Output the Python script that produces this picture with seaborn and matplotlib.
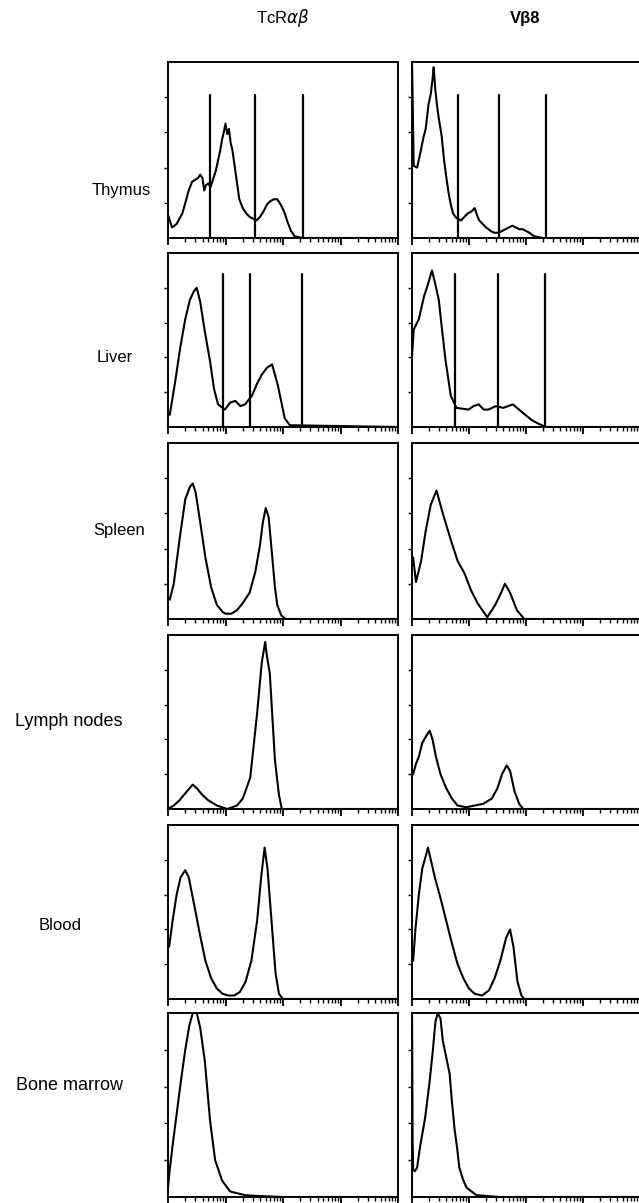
import numpy as np
import pandas as pd
import matplotlib
matplotlib.use("Agg")
import matplotlib.pyplot as plt
import seaborn as sns
from matplotlib.ticker import LogLocator, NullFormatter

sns.set_style("white")
plt.rcParams['font.family'] = ['Liberation Sans', 'DejaVu Sans']

tissues = ["Thymus", "Liver", "Spleen", "Lymph nodes", "Blood", "Bone marrow"]
columns = ["TcRαβ", "Vβ8"]

# x = log10 fluorescence (0..4), y = % of panel height
thymus_tcr_x = [0.00, 0.07, 0.15, 0.25, 0.31, 0.36, 0.42, 0.47, 0.52, 0.56, 0.60, 0.63, 0.66, 0.70, 0.74, 0.78,
                0.83, 0.87, 0.91, 0.94, 0.97, 1.00, 1.03, 1.06, 1.09, 1.12, 1.18, 1.24, 1.30, 1.36, 1.42, 1.48,
                1.54, 1.60, 1.66, 1.72, 1.78, 1.84, 1.90, 1.96, 2.02, 2.08, 2.14, 2.20, 2.34, 4.00]
thymus_tcr_y = [13, 6, 8, 14, 21, 27, 32, 33, 34, 36, 34, 27, 30, 31, 29, 33,
                38, 44, 50, 56, 60, 65, 59, 62, 54, 50, 36, 22, 17, 14, 12, 11,
                10, 12, 15, 19, 21, 22, 22, 19, 15, 9, 4, 1, 0, 0]
thymus_vb8_x = [0.00, 0.00, 0.02, 0.03, 0.09, 0.15, 0.20, 0.24, 0.29, 0.33, 0.36, 0.38, 0.41, 0.44, 0.47, 0.52,
                0.56, 0.60, 0.64, 0.68, 0.72, 0.76, 0.80, 0.86, 0.92, 0.98, 1.04, 1.10, 1.14, 1.18, 1.24, 1.30,
                1.38, 1.44, 1.52, 1.58, 1.64, 1.70, 1.76, 1.82, 1.88, 1.94, 2.00, 2.06, 2.14, 2.22, 2.30, 4.00]
thymus_vb8_y = [0, 100, 60, 41, 40, 49, 57, 62, 76, 82, 90, 97, 84, 75, 68, 58,
                45, 35, 26, 19, 14, 12, 11, 10, 12, 14, 15, 17, 13, 10, 8, 6,
                4, 3, 3, 4, 5, 6, 7, 6, 5, 5, 4, 3, 1, 0.5, 0, 0]

liver_tcr_x = [0.03, 0.12, 0.21, 0.30, 0.38, 0.45, 0.50, 0.56, 0.64, 0.73, 0.80, 0.87, 0.99, 1.08, 1.17, 1.26,
               1.34, 1.46, 1.55, 1.63, 1.72, 1.81, 1.91, 2.03, 2.12, 4.00]
liver_tcr_y = [7, 25, 45, 62, 73, 78, 80, 72, 55, 38, 22, 13, 10, 14, 15, 12,
               13, 18, 25, 30, 34, 36, 24, 5, 1, 0]
liver_vb8_x = [0.00, 0.03, 0.12, 0.21, 0.28, 0.35, 0.41, 0.47, 0.53, 0.59, 0.68, 0.78, 0.99, 1.08, 1.17, 1.26,
               1.34, 1.47, 1.60, 1.77, 1.95, 2.10, 2.21, 2.35, 4.00]
liver_vb8_y = [40, 56, 62, 75, 82, 90, 82, 73, 55, 38, 18, 11, 10, 12, 13, 10,
               10, 12, 11, 13, 8, 4, 2, 0, 0]

spleen_tcr_x = [0.03, 0.10, 0.20, 0.30, 0.38, 0.43, 0.48, 0.56, 0.65, 0.75, 0.85, 0.95, 1.00, 1.10, 1.20, 1.30,
                1.42, 1.52, 1.60, 1.65, 1.70, 1.75, 1.80, 1.86, 1.90, 1.97, 2.05, 4.00]
spleen_tcr_y = [11, 20, 45, 68, 75, 77, 72, 55, 35, 18, 8, 4, 3, 3, 5, 9,
                15, 27, 42, 55, 63, 58, 40, 18, 8, 2, 0, 0]
spleen_vb8_x = [0.00, 0.02, 0.07, 0.16, 0.24, 0.33, 0.43, 0.54, 0.68, 0.80, 0.92, 1.04, 1.15, 1.32, 1.46, 1.55,
                1.63, 1.72, 1.84, 1.97, 4.00]
spleen_vb8_y = [30, 35, 21, 33, 50, 65, 73, 60, 45, 33, 26, 16, 9, 1, 8, 14,
                20, 15, 5, 0, 0]

lymph_tcr_x = [0.00, 0.10, 0.20, 0.30, 0.43, 0.50, 0.60, 0.70, 0.85, 1.03, 1.20, 1.30, 1.43, 1.55, 1.63, 1.69,
               1.72, 1.77, 1.86, 1.93, 1.98, 4.00]
lymph_tcr_y = [0, 2, 5, 9, 14, 12, 8, 5, 2, 0, 2, 6, 18, 55, 84, 96,
               88, 78, 28, 8, 0, 0]
lymph_vb8_x = [0.02, 0.07, 0.12, 0.18, 0.25, 0.31, 0.36, 0.42, 0.50, 0.60, 0.70, 0.80, 0.95, 1.10, 1.25, 1.40,
               1.50, 1.58, 1.66, 1.72, 1.80, 1.88, 1.95, 4.00]
lymph_vb8_y = [20, 26, 30, 38, 42, 45, 40, 30, 20, 12, 6, 2, 1, 2, 3, 6,
               12, 20, 25, 22, 10, 3, 0, 0]

blood_tcr_x = [0.02, 0.08, 0.15, 0.22, 0.30, 0.36, 0.45, 0.55, 0.65, 0.75, 0.85, 0.95, 1.05, 1.15, 1.25, 1.35,
               1.45, 1.55, 1.62, 1.68, 1.73, 1.80, 1.87, 1.93, 2.00, 4.00]
blood_tcr_y = [30, 45, 60, 70, 74, 70, 55, 38, 22, 12, 6, 3, 2, 2, 4, 10,
               22, 45, 70, 87, 75, 45, 15, 3, 0, 0]
blood_vb8_x = [0.02, 0.06, 0.12, 0.18, 0.24, 0.28, 0.33, 0.40, 0.50, 0.60, 0.70, 0.80, 0.90, 1.00, 1.10, 1.23,
               1.35, 1.45, 1.55, 1.65, 1.72, 1.78, 1.85, 1.92, 1.97, 4.00]
blood_vb8_y = [22, 40, 60, 75, 82, 87, 80, 70, 58, 45, 32, 20, 12, 6, 3, 2,
               5, 12, 22, 35, 40, 30, 10, 2, 0, 0]

marrow_tcr_x = [0.00, 0.03, 0.08, 0.15, 0.22, 0.30, 0.37, 0.43, 0.50, 0.56, 0.64, 0.73, 0.82, 0.94, 1.08, 1.34,
                1.60, 2.00, 4.00]
marrow_tcr_y = [5, 15, 28, 45, 62, 80, 93, 100, 100, 92, 74, 42, 20, 9, 3, 1,
                0.5, 0, 0]
marrow_vb8_x = [0.00, 0.00, 0.01, 0.02, 0.05, 0.09, 0.14, 0.23, 0.31, 0.37, 0.41, 0.45, 0.50, 0.54, 0.60, 0.66,
                0.70, 0.75, 0.79, 0.83, 0.90, 0.96, 1.13, 1.53, 4.00]
marrow_vb8_y = [0, 100, 30, 15, 14, 16, 27, 43, 63, 81, 95, 100, 97, 85, 76, 67,
                52, 36, 27, 16, 9, 5, 1, 0, 0]

# gate markers (log10 position), height in %
thymus_tcr_gates = [0.73, 1.51, 2.35]
thymus_vb8_gates = [0.80, 1.53, 2.35]
liver_tcr_gates = [0.96, 1.43, 2.33]
liver_vb8_gates = [0.75, 1.50, 2.33]
thymus_gate_top = 81
liver_gate_top = 88

curves = [
    [(thymus_tcr_x, thymus_tcr_y), (thymus_vb8_x, thymus_vb8_y)],
    [(liver_tcr_x, liver_tcr_y), (liver_vb8_x, liver_vb8_y)],
    [(spleen_tcr_x, spleen_tcr_y), (spleen_vb8_x, spleen_vb8_y)],
    [(lymph_tcr_x, lymph_tcr_y), (lymph_vb8_x, lymph_vb8_y)],
    [(blood_tcr_x, blood_tcr_y), (blood_vb8_x, blood_vb8_y)],
    [(marrow_tcr_x, marrow_tcr_y), (marrow_vb8_x, marrow_vb8_y)],
]
gates = {(0, 0): (thymus_tcr_gates, thymus_gate_top), (0, 1): (thymus_vb8_gates, thymus_gate_top),
         (1, 0): (liver_tcr_gates, liver_gate_top), (1, 1): (liver_vb8_gates, liver_gate_top)}

W, H = 639, 1203
fig = plt.figure(figsize=(W / 100, H / 100), dpi=100)

col_px = [(168, 398), (412, 640)]
row_px = [(62, 238), (253, 427), (443, 619), (635, 809), (825, 999), (1013, 1197)]
label_px = [(121, 190), (115, 358), (119, 531), (69, 722), (60, 925), (70, 1085)]
label_size = [12, 12, 12, 13, 12, 13]

for i, (top, bot) in enumerate(row_px):
    for j, (left, right) in enumerate(col_px):
        ax = fig.add_axes([left / W, 1 - bot / H, (right - left) / W, (bot - top) / H])
        lx, ly = curves[i][j]
        df = pd.DataFrame({"x": 10 ** np.array(lx), "y": ly})
        sns.lineplot(data=df, x="x", y="y", ax=ax, color="black", lw=1.5,
                     estimator=None, sort=False)
        if (i, j) in gates:
            g, gtop = gates[(i, j)]
            for gx in g:
                ax.plot([10 ** gx, 10 ** gx], [0, gtop], color="black", lw=1.6)
        ax.set_xscale("log")
        ax.set_xlim(1, 1e4)
        ax.set_ylim(0, 100)
        ax.xaxis.set_major_locator(LogLocator(base=10, numticks=10))
        ax.xaxis.set_minor_locator(LogLocator(base=10, subs=np.arange(2, 10), numticks=20))
        ax.xaxis.set_minor_formatter(NullFormatter())
        ax.set_xticklabels([])
        ax.set_yticks([20, 40, 60, 80])
        ax.set_yticklabels([])
        ax.tick_params(axis="x", which="major", direction="out", length=5, width=1.3, color="black", bottom=True)
        ax.tick_params(axis="x", which="minor", direction="out", length=3, width=1.0, color="black", bottom=True)
        ax.tick_params(axis="y", direction="out", length=3, width=1.0, color="black", left=True)
        ax.set_xlabel("")
        ax.set_ylabel("")
        for s in ax.spines.values():
            s.set_visible(True)
            s.set_color("black")
            s.set_linewidth(1.4)

for name, (cx, cy), fs in zip(tissues, label_px, label_size):
    fig.text(cx / W, 1 - cy / H, name, ha="center", va="center", fontsize=fs, color="black")

fig.text(283 / W, 1 - 18 / H, "TcR$\\alpha\\beta$", ha="center", va="center", fontsize=12, color="black")
fig.text(525 / W, 1 - 18 / H, columns[1], ha="center", va="center", fontsize=12, fontweight="bold", color="black")

fig.savefig("out.png", dpi=100)
